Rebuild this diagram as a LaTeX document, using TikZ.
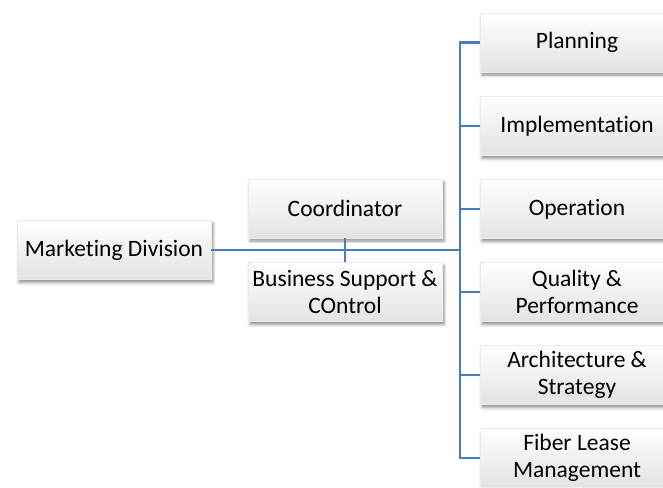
\documentclass[tikz,border=0pt]{standalone}
\usepackage{fontspec}
\setmainfont{Carlito}[Ligatures=NoCommon]
\usetikzlibrary{shadows.blur}
\definecolor{linkblue}{RGB}{74,126,187}
\begin{document}
\begin{tikzpicture}[x=1pt,y=-1pt,
  box/.style={minimum width=194pt, minimum height=59pt, inner sep=2pt,
    top color=white, bottom color=black!11, draw=black!8, line width=0.3pt,
    blur shadow={shadow xshift=2pt, shadow yshift=-3pt, shadow blur radius=3pt, shadow opacity=45},
    font=\fontsize{23.5}{27}\selectfont, align=center},
  link/.style={draw=linkblue, line width=2.4pt}]
\useasboundingbox (0,0) rectangle (663,487);

% left side
\node[box] (md) at (114,250) {Marketing Division};
\node[box] (coord) at (345,208.5) {Coordinator};
\node[box] (bs) at (345,292) {Business Support \&\\COntrol};

% departments
\node[box] (plan) at (577,42.5) {Planning};
\node[box] (impl) at (577,126) {Implementation};
\node[box] (oper) at (577,209) {Operation};
\node[box] (qual) at (577,292) {Quality \&\\Performance};
\node[box] (arch) at (577,375) {Architecture \&\\Strategy};
\node[box] (fiber) at (577,458) {Fiber Lease\\Management};

% connectors
\coordinate (spine) at (460,250);
\draw[link] (md.east) -- (spine);
\draw[link] (coord.south) -- (bs.north);
\draw[link] (plan.west) -| (spine) |- (fiber.west);
\foreach \n in {impl,oper,qual,arch}
  \draw[link] (\n.west) -- (\n.west -| spine);
\end{tikzpicture}
\end{document}
